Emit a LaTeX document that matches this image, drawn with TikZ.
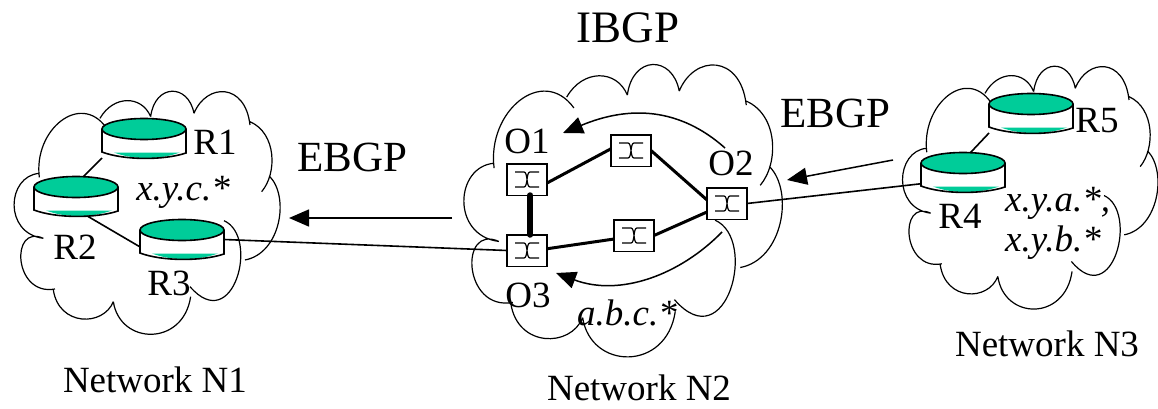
\documentclass[tikz,border=0pt]{standalone}
\usepackage{fontspec}
\setmainfont{Liberation Serif}
\usetikzlibrary{arrows.meta}
\definecolor{routergreen}{HTML}{00CC99}
\tikzset{
	cloudline/.style={line width=1.2pt},
	routerbox/.style={minimum width=84pt, minimum height=39pt, inner sep=0pt, outer sep=0pt},
	switchbox/.style={draw, line width=1.5pt, fill=white, minimum width=40pt, minimum height=31.5pt, inner sep=0pt, outer sep=0pt,
		path picture={\draw[line width=1.2pt, shift={(path picture bounding box.center)}]
			(-12,-7.5) -- (-3,-7.5) .. controls (1,-7.5) and (-1,7.5) .. (3,7.5) -- (12,7.5)
			(-12,7.5) -- (-3,7.5) .. controls (1,7.5) and (-1,-7.5) .. (3,-7.5) -- (12,-7.5);}},
	biglabel/.style={font=\fontsize{43}{47}\selectfont, inner sep=0pt},
	midlabel/.style={font=\fontsize{37}{41}\selectfont, inner sep=0pt},
	addrlabel/.style={font=\fontsize{37}{40}\selectfont\itshape, inner sep=0pt, align=left},
	link/.style={line width=1.6pt},
	trunk/.style={line width=3pt},
	flow/.style={line width=1.5pt, -{Triangle[length=20pt,width=17pt]}},
}
\newcommand{\netcloud}[4]{
	\begin{scope}[shift={(#1,#2)}, xscale=#3, yscale=#4]
	\draw[cloudline]
		(118,262) .. controls (100,120) and (240,5) .. (318,112)
		(300,85) .. controls (340,15) and (425,15) .. (452,80)
		(452,80) .. controls (465,-20) and (565,-20) .. (582,70)
		(582,70) .. controls (620,-22) and (736,-22) .. (750,105)
		(750,95) .. controls (830,130) and (832,250) .. (785,305)
		(808,258) .. controls (870,320) and (842,490) .. (735,510)
		(672,392) .. controls (780,440) and (700,740) .. (570,590)
		(572,620) .. controls (550,770) and (360,766) .. (340,635)
		(340,635) .. controls (310,710) and (177,710) .. (160,600)
		(165,597) .. controls (40,620) and (30,400) .. (130,445)
		(130,445) .. controls (10,430) and (20,258) .. (118,250);
	\end{scope}
}
\newcommand{\router}[3]{
	\node at (#2,#3) (#1) [routerbox] {};
	\begin{scope}[shift={(#1.center)}]
	\fill[white] (-42,-9.5) -- (-42,13.5) .. controls (-20,21.9) and (20,21.9) .. (42,13.5) -- (42,-9.5) -- cycle;
	\fill[routergreen] (-30,14) .. controls (-10,21.5) and (15,21.5) .. (36,14) -- cycle;
	\draw[link] (-42,-9.5) -- (-42,13.5) .. controls (-20,21.9) and (20,21.9) .. (42,14.5) -- (42,-9.5);
	\draw[link, fill=routergreen] (0,-9.5) ellipse [x radius=42pt, y radius=10.5pt];
	\end{scope}
}
\begin{document}
\begin{tikzpicture}[x=1pt, y=-1pt]
	\useasboundingbox (0,0) rectangle (1158,409);
	\netcloud{0}{90}{0.3333}{0.3333}
	\netcloud{447}{63}{0.399}{0.401}
	\netcloud{889}{65}{0.32}{0.333}
	% routers
	\router{routerone}{144}{138.5}
	\router{routertwo}{76}{196.5}
	\router{routerthree}{182}{239.5}
	\router{routerfour}{963}{172.5}
	\router{routerfive}{1031}{113.5}
	\draw[link] (routerone.south west) -- (routertwo.70);
	\draw[link] (routertwo.300) -- (routerthree.190);
	\draw[link] (routerfive.south west) -- (routerfour.70);
	% optical switches
	\node at (527,179.5) (switchone) [switchbox] {};
	\node at (631,150.5) (switchtop) [switchbox] {};
	\node at (727,203.5) (switchtwo) [switchbox] {};
	\node at (634,235.5) (switchlow) [switchbox] {};
	\node at (527,250.5) (switchthree) [switchbox] {};
	\draw[trunk] (switchone.350) -- (switchtop.175);
	\draw[trunk] (switchtop.east) -- (switchtwo.170);
	\draw[trunk] (switchtwo.203) -- (switchlow.east);
	\draw[trunk] (switchlow.190) -- (switchthree.5);
	\draw[line width=6pt, line cap=round] (switchone.282) -- (switchthree.78);
	\draw[link] (routerthree.east) -- (switchthree.west);
	\draw[link] (switchtwo.east) -- (routerfour.195);
	% flows
	\coordinate (ebgpleftfrom) at (452,218);
	\coordinate (ebgplefttip) at (289,218);
	\coordinate (ebgprightfrom) at (893,160);
	\coordinate (ebgprighttip) at (787,180);
	\coordinate (ibgptopfrom) at (725,148);
	\coordinate (ibgptoptip) at (563,133);
	\coordinate (ibgplowfrom) at (722,232);
	\coordinate (ibgplowtip) at (556,273);
	\draw[flow] (ebgpleftfrom) -- (ebgplefttip);
	\draw[flow] (ebgprightfrom) -- (ebgprighttip);
	\draw[flow] (ibgptopfrom) .. controls (680,108) and (630,105) .. (ibgptoptip);
	\draw[flow] (ibgplowfrom) .. controls (680,275) and (620,297) .. (ibgplowtip);
	% labels
	\node at (215,142) (labelone) [midlabel] {R1};
	\node at (75,247) (labeltwo) [midlabel] {R2};
	\node at (169,283) (labelthree) [midlabel] {R3};
	\node at (960,216) (labelfour) [midlabel] {R4};
	\node at (1097,121) (labelfive) [midlabel] {R5};
	\node at (527,141) (labelsone) [midlabel] {O1};
	\node at (731,163) (labelstwo) [midlabel] {O2};
	\node at (528,295) (labelsthree) [midlabel] {O3};
	\node at (183,192) (addrone) [addrlabel] {x.y.c.*};
	\node at (627,313) (addrtwo) [addrlabel] {a.b.c.*};
	\node at (1005,223) (addrthree) [addrlabel, anchor=west] {x.y.a.*,\\x.y.b.*};
	\node at (352,157) (ebgpleft) [biglabel] {EBGP};
	\node at (835,113) (ebgpright) [biglabel] {EBGP};
	\node at (628,28) (ibgp) [biglabel, font=\fontsize{45}{49}\selectfont] {IBGP};
	\node at (155,380) (netone) [midlabel] {Network N1};
	\node at (639,388) (nettwo) [midlabel] {Network N2};
	\node at (1047,344) (netthree) [midlabel] {Network N3};
\end{tikzpicture}
\end{document}
